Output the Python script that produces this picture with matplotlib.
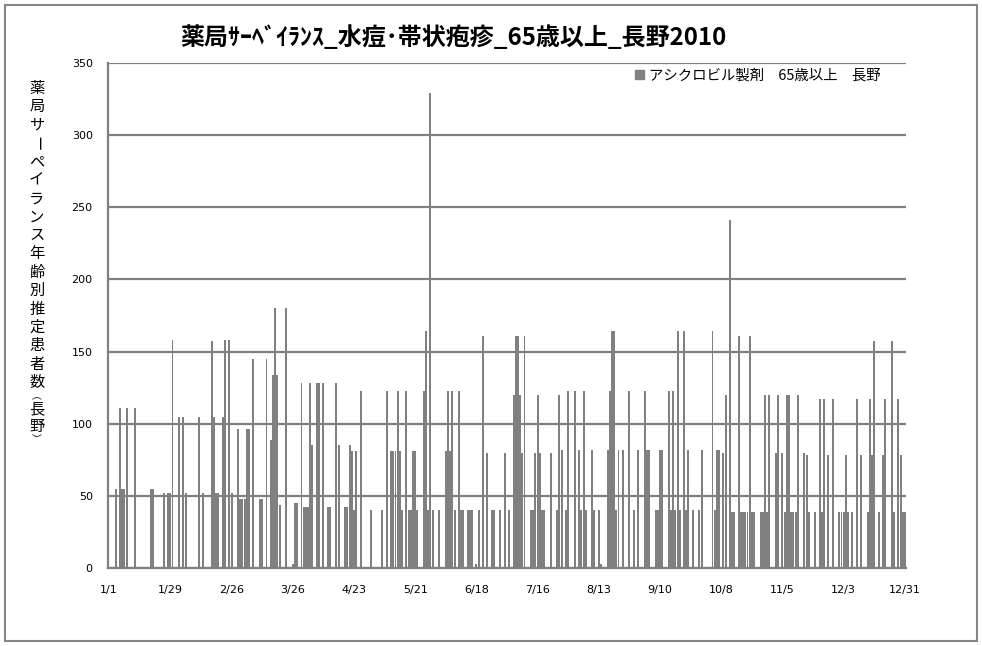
import matplotlib
matplotlib.use('Agg')
import matplotlib.pyplot as plt
from matplotlib.patches import Rectangle, Patch
import numpy as np

# Daily values (2010), one list per month
jan = [0,0,0,55,0,111,55,55,111,0,0,0,111,0,0,0,0,0,0,55,55,0,0,0,0,52,0,52,52,158,0]
feb = [0,105,0,105,52,0,0,0,0,0,105,0,52,0,0,0,157,105,52,52,0,105,158,0,158,52,0,0]
mar = [96,48,48,48,96,96,0,145,0,0,48,48,0,145,0,89,134,180,134,44,0,0,180,0,0,3,45,45,0,128,42]
apr = [42,42,128,85,0,128,128,0,128,0,42,42,0,0,128,85,0,0,42,42,85,81,40,81,0,123,0,0,0,0]
may = [40,0,0,0,0,40,0,123,0,81,81,81,123,81,40,0,123,40,40,81,81,40,0,0,123,164,40,329,40,0,0]
jun = [40,0,0,81,123,81,123,40,0,123,40,40,0,40,40,40,0,3,40,0,161,0,80,0,40,40,0,0,40,0]
jul = [80,0,40,0,120,161,161,120,80,161,0,0,40,40,80,120,80,40,40,0,0,80,0,0,40,120,82,0,40,123,0]
aug = [0,123,0,82,40,123,40,0,0,82,40,0,40,3,0,0,82,123,164,164,40,82,0,82,0,0,123,0,40,0,82]
sep = [0,0,123,82,82,0,0,40,40,82,82,0,0,123,40,123,40,164,40,0,164,40,82,0,40,0,0,40,82,0]
oct_ = [0,0,0,164,40,82,82,0,80,120,0,241,39,39,0,161,39,39,39,39,161,39,39,0,0,39,39,120,39,120,0]
nov = [0,80,120,0,80,39,120,120,39,39,39,120,0,0,80,78,39,0,0,39,0,117,39,117,0,78,0,117,0,0]
dec = [39,39,39,78,39,0,39,0,117,0,78,0,0,39,117,78,157,0,39,0,78,117,0,0,157,39,0,117,78,39,39]

values = jan + feb + mar + apr + may + jun + jul + aug + sep + oct_ + nov + dec
days = np.arange(len(values))

tick_days = [0, 28, 56, 84, 112, 140, 168, 196, 224, 252, 280, 308, 336, 364]
tick_labels = ['1/1', '1/29', '2/26', '3/26', '4/23', '5/21', '6/18', '7/16',
               '8/13', '9/10', '10/8', '11/5', '12/3', '12/31']

title = '薬局ｻｰﾍﾞｲﾗﾝｽ_水痘･帯状疱疹_65歳以上_長野2010'
ylabel = '薬局サーペイランス年齢別推定患者数（長野）'
legend_label = 'アシクロビル製剤　65歳以上　長野'

plt.rcParams['font.family'] = ['Noto Sans CJK JP', 'DejaVu Sans']

W, H = 982, 646
fig = plt.figure(figsize=(W / 100, H / 100), dpi=100)
ax = fig.add_axes([108 / W, 1 - 568 / H, (906 - 108) / W, (568 - 63) / H])

grey = '#808080'
ax.bar(days, values, width=0.9, color=grey, zorder=3, linewidth=0,
       antialiased=False, label=legend_label)
ax.set_xlim(-0.5, 364.5)
ax.set_ylim(0, 350)
ax.set_yticks(range(0, 351, 50))
ax.set_xticks(tick_days)
ax.set_xticklabels(tick_labels, family='DejaVu Sans', fontsize=8)
for lbl in ax.get_yticklabels():
    lbl.set_family('DejaVu Sans')
    lbl.set_fontsize(8)
ax.tick_params(axis='both', length=0)
ax.tick_params(axis='y', pad=11)
ax.tick_params(axis='x', pad=12)
ax.yaxis.grid(True, color=grey, linewidth=1.6, zorder=0)
ax.set_axisbelow(True)
for s in ['top', 'right']:
    ax.spines[s].set_visible(False)
for s in ['left', 'bottom']:
    ax.spines[s].set_color(grey)
    ax.spines[s].set_linewidth(1.6)

# Title
fig.text(453 / W, 1 - 38 / H, title, ha='center', va='center',
         fontsize=17.3, fontweight='bold', color='black')

# Vertical (stacked) y-axis label, characters upright
ypos = [88.3 + 18.4 * i for i in range(17)] + [396, 409, 426, 439]
for ch, yp in zip(ylabel, ypos):
    if ch == 'ー':
        fig.text(36.7 / W, 1 - yp / H, ch, ha='center', va='center',
                 fontsize=11, rotation=270, color='black')
    elif ch in '（）':
        vch = '\ufe35' if ch == '（' else '\ufe36'
        fig.text(36.7 / W, 1 - yp / H, vch, ha='center', va='center',
                 fontsize=7, color='black')
    else:
        fig.text(36.7 / W, 1 - yp / H, ch, ha='center', va='center',
                 fontsize=11, color='black')

# Legend
ax.legend(handles=[Patch(color=grey, label=legend_label)], loc='center right',
          bbox_to_anchor=(881 / W, 1 - 76 / H), bbox_transform=fig.transFigure,
          frameon=False, fontsize=10.4, handlelength=0.6, handleheight=0.6,
          handletextpad=0.4, borderpad=0, borderaxespad=0)

# Outer chart border
fig.patches.append(Rectangle((5 / W, 5 / H), 972 / W, 636 / H, transform=fig.transFigure,
                             fill=False, edgecolor='#868686', linewidth=1.5))

fig.savefig('out.png', dpi=100)
